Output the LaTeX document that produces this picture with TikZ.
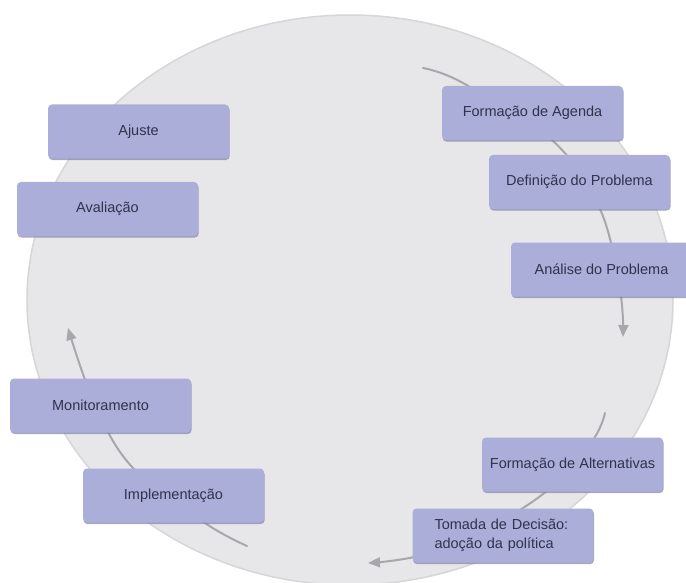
\documentclass[tikz,border=0pt]{standalone}
\usepackage{fontspec}
\setmainfont{Liberation Sans}
\usetikzlibrary{arrows.meta,shadows}
\definecolor{discbg}{RGB}{231,231,233}
\definecolor{discedge}{RGB}{214,214,216}
\definecolor{boxfill}{RGB}{171,174,216}
\definecolor{boxshade}{RGB}{128,130,170}
\definecolor{boxtext}{RGB}{48,50,78}
\definecolor{arcgray}{RGB}{168,168,172}
\tikzset{
  stagebox/.style={rectangle, rounded corners=4pt, fill=boxfill,
    minimum width=181pt, minimum height=54pt, inner sep=0pt,
    text=boxtext, font=\fontsize{14.5}{19}\selectfont,
    drop shadow={shadow xshift=0.6pt, shadow yshift=-1.6pt, fill=boxshade, opacity=0.7}},
  cyclearc/.style={draw=arcgray, line width=2pt, line cap=round,
    -{Triangle[length=12pt,width=10pt]}},
  cycleline/.style={draw=arcgray, line width=2pt, line cap=round}
}
\begin{document}
\begin{tikzpicture}[x=1pt,y=-1pt]
\useasboundingbox (0,0) rectangle (686,583);
\fill[white] (0,0) rectangle (686,583);
% background disc
\draw[fill=discbg, draw=discedge, line width=1.5pt] (350,300) ellipse [x radius=323, y radius=285];

% arc coordinates
\coordinate (a1) at (423,68);
\coordinate (a2) at (463,83);
\coordinate (a3) at (552,140);
\coordinate (a4) at (600,209);
\coordinate (a5) at (620,290);
\coordinate (a6) at (623,337);

\coordinate (b1) at (605,413);
\coordinate (b2) at (590,444);
\coordinate (b3) at (535,500);
\coordinate (b4) at (440,550);
\coordinate (b5) at (368,563);

\coordinate (c1) at (247,546);
\coordinate (c2) at (205,523);
\coordinate (c3) at (133,468);
\coordinate (c4) at (95,405);
\coordinate (c5) at (68,328);

\draw[cyclearc] plot[smooth, tension=0.6] coordinates {(a1) (a2) (a3) (a4) (a5) (a6)};
\draw[cyclearc] plot[smooth, tension=0.6] coordinates {(b1) (b2) (b3) (b4) (b5)};
\draw[cyclearc] plot[smooth, tension=0.6] coordinates {(c1) (c2) (c3) (c4) (c5)};

% stage boxes
\node[stagebox] (ajuste) at (138.5,131.5) {Ajuste};
\node[stagebox] (avaliacao) at (107.5,209) {Avaliação};
\node[stagebox] (agenda) at (532.5,113) {Formação de Agenda};
\node[stagebox] (definicao) at (579.5,182) {Definição do Problema};
\node[stagebox] (analise) at (601.5,269.5) {Análise do Problema};
\node[stagebox] (alternativas) at (572.5,464.5) {Formação de Alternativas};
\node[stagebox, text width=137pt, inner xsep=22pt, align=left] (tomada) at (503,535.5) {Tomada de Decisão:\\adoção da política};
\node[stagebox] (monitoramento) at (100.5,405.5) {Monitoramento};
\node[stagebox] (implementacao) at (173.5,495.5) {Implementação};
\end{tikzpicture}
\end{document}
